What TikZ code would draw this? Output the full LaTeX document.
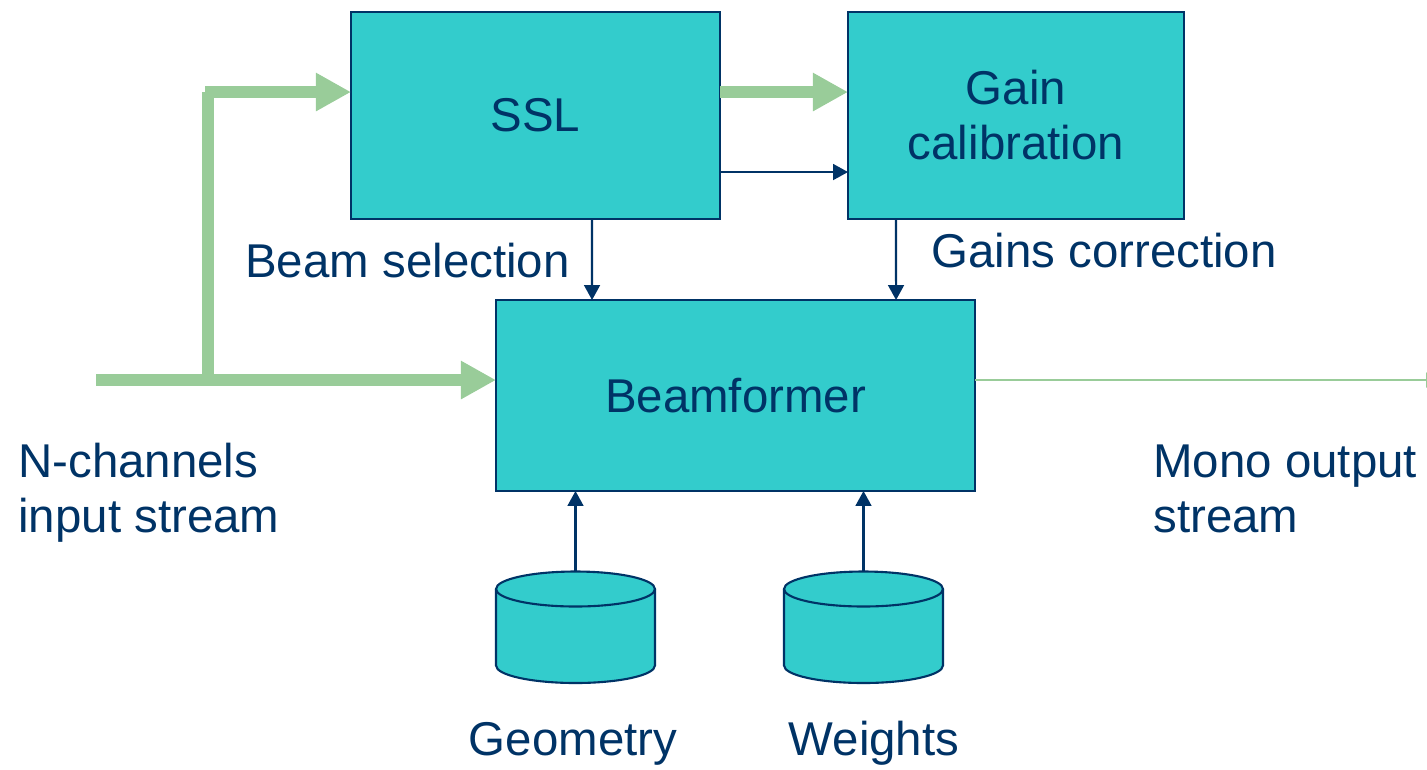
\documentclass[tikz,border=0pt]{standalone}
\usepackage{fontspec}
\setmainfont{Liberation Sans}
\usetikzlibrary{arrows.meta,calc}

\definecolor{boxfill}{RGB}{51,204,204}
\definecolor{navy}{RGB}{0,51,102}
\definecolor{flow}{RGB}{153,204,153}

\tikzset{
  block/.style={draw=navy, line width=1.2pt, fill=boxfill, text=navy,
    align=center, inner sep=0pt, outer sep=0pt,
    font=\fontsize{27}{31.3}\selectfont},
  label/.style={text=navy, inner sep=0pt, align=left,
    font=\fontsize{27}{31.3}\selectfont},
  ctrl/.style={draw=navy, line width=1.2pt,
    -{Triangle[length=8.5pt,width=9pt]}},
  stream/.style={draw=flow, line width=6.6pt,
    -{Triangle[length=20pt,width=20.5pt]}},
  thinstream/.style={draw=flow, line width=1.2pt,
    -{Triangle[length=8.5pt,width=8.5pt]}},
  store/.style={fill=boxfill, draw=navy, line width=1.2pt},
}

\begin{document}
\begin{tikzpicture}[x=0.02cm, y=-0.02cm]
\clip (0,0) rectangle (1427,769);

% processing blocks
\node[block, minimum width=7.38cm, minimum height=4.14cm] (ssl) at (535.5,115.5) {SSL};
\node[block, minimum width=6.72cm, minimum height=4.14cm] (gain) at (1016,115.5) {Gain\\calibration};
\node[block, minimum width=9.58cm, minimum height=3.82cm] (bf) at (735.5,395.5) {Beamformer};

% data stores (cylinders)
\foreach \cx/\nm in {575.5/geo, 863.5/wts}{
  \fill[boxfill] (\cx-79.5,589) rectangle (\cx+79.5,665.5);
  \fill[boxfill] (\cx,665.5) ellipse [x radius=1.59cm, y radius=0.35cm];
  \draw[navy, line width=1.2pt] (\cx-79.5,589) -- (\cx-79.5,665.5)
    arc[start angle=180, end angle=360, x radius=1.59cm, y radius=0.35cm]
    -- (\cx+79.5,589);
  \draw[store] (\cx,589) ellipse [x radius=1.59cm, y radius=0.35cm];
  \node[inner sep=0pt, outer sep=0pt, minimum width=3.18cm, minimum height=2.22cm] (\nm) at (\cx,627.5) {};
}

% text labels
\node[label, anchor=base west] (lsel) at (245,277) {Beam selection};
\node[label, anchor=base west] (lgc) at (931,267) {Gains correction};
\node[label, anchor=base west] (lin) at (18,532) {N-channels\\input stream};
\node[label, anchor=base west] (lout) at (1153,532) {Mono output\\stream};
\node[label, anchor=base] (lgeo) at (573,755) {Geometry};
\node[label, anchor=base] (lwts) at (874,755) {Weights};

% input stream and its branch to the SSL block
\coordinate (in) at (96,380);
\coordinate (split) at (208,380);
\draw[stream] (in) -- ($(bf.north west)+(0,80)$);
\draw[draw=flow, line width=6.6pt] (split) -- (208,92);
\draw[stream] (205,92) -- ($(ssl.north west)+(0,80)$);

% SSL to gain calibration
\draw[stream] ($(ssl.north east)+(0,80)$) -- ($(gain.north west)+(0,80)$);
\draw[ctrl] ($(ssl.north east)+(0,160)$) -- ($(gain.north west)+(0,160)$);

% control into the beamformer
\draw[ctrl] ($(ssl.south west)+(241,0)$) -- ($(bf.north west)+(96,0)$);
\draw[ctrl] ($(gain.south west)+(48,0)$) -- ($(bf.north west)+(400,0)$);

% stores into the beamformer
\draw[ctrl] (geo.north) -- (geo.north |- bf.south);
\draw[ctrl] (wts.north) -- (wts.north |- bf.south);

% mono output
\coordinate (out) at ($(bf.north east)+(466,80)$);
\draw[thinstream] ($(bf.north east)+(0,80)$) -- (out);
\end{tikzpicture}
\end{document}
